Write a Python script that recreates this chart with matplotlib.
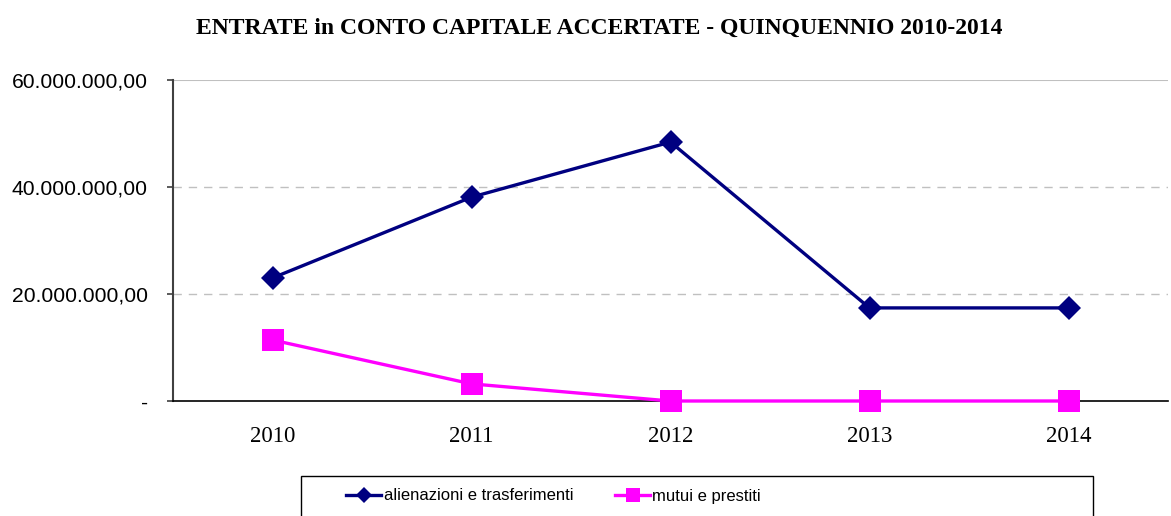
import matplotlib.pyplot as plt
from matplotlib.patches import Rectangle
from matplotlib.ticker import FuncFormatter

# data
anni = ["2010", "2011", "2012", "2013", "2014"]
alienazioni = [23000000, 38100000, 48400000, 17400000, 17400000]
mutui = [11400000, 3200000, 0, 0, 0]

fig = plt.figure(figsize=(11.71, 5.16), dpi=100)
ax = fig.add_axes([173/1171, 1-401/516, (1168-173)/1171, (401-80)/516])

x = range(len(anni))
ax.plot(x, alienazioni, color="#000080", lw=2.4, marker="D", ms=12.5, mew=0,
        label="alienazioni e trasferimenti", clip_on=False, zorder=3)
ax.plot(x, mutui, color="#FF00FF", lw=2.4, marker="s", ms=16, mew=0,
        label="mutui e prestiti", clip_on=False, zorder=3)

ax.set_xlim(-0.5, len(anni)-0.5)
ax.set_ylim(0, 60000000)
ax.set_yticks([0, 20000000, 40000000, 60000000])

def fmt(v, pos):
    if v == 0:
        return "-"
    s = f"{v:,.2f}"
    return s.replace(",", "X").replace(".", ",").replace("X", ".")

ax.yaxis.set_major_formatter(FuncFormatter(fmt))
ax.set_xticks(list(x))
ax.set_xticklabels(anni, family="Liberation Serif", fontsize=16.5)
for t in ax.get_yticklabels():
    t.set_family("Liberation Sans")
    t.set_fontsize(15.2)
ax.tick_params(axis="x", length=0, pad=18)
ax.tick_params(axis="y", length=4.5, width=1.2, color="#404040", pad=13.5)

for yv in [20000000, 40000000]:
    ax.axhline(yv, color="#c0c0c0", lw=1, ls=(0, (6, 5)), zorder=1)
ax.axhline(60000000, color="#c0c0c0", lw=1.5, zorder=1)

ax.spines["top"].set_visible(False)
ax.spines["right"].set_visible(False)
ax.spines["left"].set_color("#404040")
ax.spines["left"].set_linewidth(1.5)
ax.spines["bottom"].set_color("black")
ax.spines["bottom"].set_linewidth(1.2)

fig.text(599/1171, 1-28/516, "ENTRATE in CONTO CAPITALE ACCERTATE - QUINQUENNIO 2010-2014",
         ha="center", va="center", family="Liberation Serif", weight="bold", fontsize=17)

# legend box
fig.patches.append(Rectangle((301/1171, -0.05), (1093-301)/1171, 0.05+1-476/516,
                             transform=fig.transFigure, fill=False, edgecolor="black", lw=1))
leg = fig.legend(loc="center left", bbox_to_anchor=(338/1171, 1-496/516), ncol=2,
                 frameon=False, borderpad=0, handlelength=2.1, handletextpad=0.15,
                 columnspacing=2.5, prop={"family": "Liberation Sans", "size": 12})
leg.legend_handles[0].set_markersize(8)
leg.legend_handles[1].set_markersize(10)

fig.savefig("out.png", dpi=100)
